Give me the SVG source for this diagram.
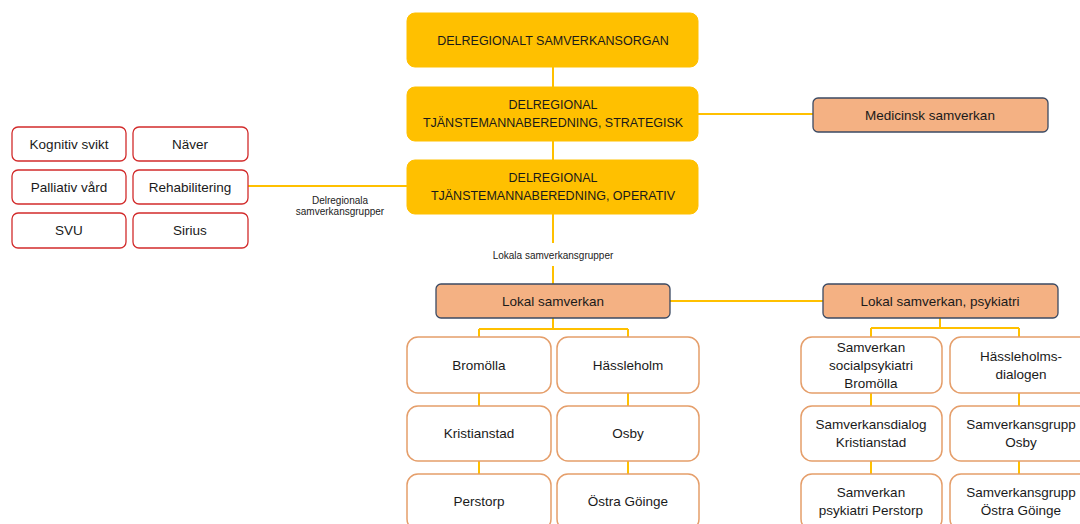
<svg xmlns="http://www.w3.org/2000/svg" width="1080" height="524" viewBox="0 0 1080 524">
<style>
text{font-family:"Liberation Sans",Arial,sans-serif;fill:#1a1a1a;text-anchor:middle;dominant-baseline:central}
.y rect{fill:#FFC000;stroke:#FFC000;stroke-width:1}
.y text{font-size:12.5px}
.r rect{fill:#fff;stroke:#D22B2B;stroke-width:1.3}
.o rect{fill:#F4B183;stroke:#3B4A63;stroke-width:1.3}
.c rect{fill:#fff;stroke:#E59E6A;stroke-width:1.5}
.n text{font-size:13.5px}
.y.n text{font-size:12.5px}
.lbl{font-size:10px;fill:#222}
#connectors path{fill:none;stroke:#FFC000;stroke-width:2}
</style>
<rect width="1080" height="524" fill="#fff"/>
<g id="connectors">
<path d="M553 67V87M553 141V160"/>
<path d="M698 114H813"/>
<path d="M248 186H407"/>
<path d="M553 214V243M553 266V284"/>
<path d="M670 301H823"/>
<path d="M553 318V329M479 329H628M479 329V337M628 329V337"/>
<path d="M479 393V406M479 461V474M628 393V406M628 461V474"/>
<path d="M940 318V328M871 328H1019M871 328V337M1019 328V337"/>
<path d="M871 393V406M871 461V474M1019 393V406M1019 461V474"/>
</g>
<text class="lbl" x="340" y="200">Delregionala</text>
<text class="lbl" x="340" y="211">samverkansgrupper</text>
<text class="lbl" x="553" y="255">Lokala samverkansgrupper</text>
<g class="y n">
<g id="n-organ"><rect x="407" y="13" width="291" height="54" rx="8"/><text x="553" y="41">DELREGIONALT SAMVERKANSORGAN</text></g>
<g id="n-strategisk"><rect x="407" y="87" width="291" height="54" rx="8"/><text x="553" y="105">DELREGIONAL</text><text x="553" y="123">TJÄNSTEMANNABEREDNING, STRATEGISK</text></g>
<g id="n-operativ"><rect x="407" y="160" width="291" height="54" rx="8"/><text x="553" y="178">DELREGIONAL</text><text x="553" y="196">TJÄNSTEMANNABEREDNING, OPERATIV</text></g>
</g>
<g class="o n">
<g id="n-medicinsk"><rect x="813" y="98" width="235" height="34" rx="5"/><text x="930" y="115">Medicinsk samverkan</text></g>
<g id="n-lokal"><rect x="436" y="284" width="234" height="34" rx="5"/><text x="553" y="301">Lokal samverkan</text></g>
<g id="n-lokalpsyk"><rect x="823" y="284" width="235" height="34" rx="5"/><text x="940" y="301">Lokal samverkan, psykiatri</text></g>
</g>
<g class="r n">
<g id="n-kognitiv"><rect x="12" y="127" width="114" height="34" rx="6"/><text x="69" y="144">Kognitiv svikt</text></g>
<g id="n-naver"><rect x="133" y="127" width="115" height="34" rx="6"/><text x="190" y="144">Näver</text></g>
<g id="n-palliativ"><rect x="12" y="170" width="114" height="34" rx="6"/><text x="69" y="187">Palliativ vård</text></g>
<g id="n-rehab"><rect x="133" y="170" width="115" height="34" rx="6"/><text x="190" y="187">Rehabilitering</text></g>
<g id="n-svu"><rect x="12" y="213" width="114" height="35" rx="6"/><text x="69" y="230">SVU</text></g>
<g id="n-sirius"><rect x="133" y="213" width="115" height="35" rx="6"/><text x="190" y="230">Sirius</text></g>
</g>
<g class="c n">
<g id="n-bromolla"><rect x="407" y="337" width="144" height="56" rx="11"/><text x="479" y="365">Bromölla</text></g>
<g id="n-hassleholm"><rect x="557" y="337" width="142" height="56" rx="11"/><text x="628" y="365">Hässleholm</text></g>
<g id="n-kristianstad"><rect x="407" y="406" width="144" height="55" rx="11"/><text x="479" y="433">Kristianstad</text></g>
<g id="n-osby"><rect x="557" y="406" width="142" height="55" rx="11"/><text x="628" y="433">Osby</text></g>
<g id="n-perstorp"><rect x="407" y="474" width="144" height="56" rx="11"/><text x="479" y="501">Perstorp</text></g>
<g id="n-ostragoinge"><rect x="557" y="474" width="142" height="56" rx="11"/><text x="628" y="501">Östra Göinge</text></g>
<g id="n-psyk-bromolla"><rect x="801" y="337" width="141" height="56" rx="11"/><text x="871" y="347">Samverkan</text><text x="871" y="365">socialpsykiatri</text><text x="871" y="383">Bromölla</text></g>
<g id="n-psyk-hassleholm"><rect x="950" y="337" width="142" height="56" rx="11"/><text x="1021" y="356">Hässleholms-</text><text x="1021" y="374">dialogen</text></g>
<g id="n-psyk-kristianstad"><rect x="801" y="406" width="141" height="55" rx="11"/><text x="871" y="424">Samverkansdialog</text><text x="871" y="442">Kristianstad</text></g>
<g id="n-psyk-osby"><rect x="950" y="406" width="142" height="55" rx="11"/><text x="1021" y="424">Samverkansgrupp</text><text x="1021" y="442">Osby</text></g>
<g id="n-psyk-perstorp"><rect x="801" y="474" width="141" height="56" rx="11"/><text x="871" y="492">Samverkan</text><text x="871" y="510">psykiatri Perstorp</text></g>
<g id="n-psyk-ostragoinge"><rect x="950" y="474" width="142" height="56" rx="11"/><text x="1021" y="492">Samverkansgrupp</text><text x="1021" y="510">Östra Göinge</text></g>
</g>
</svg>
